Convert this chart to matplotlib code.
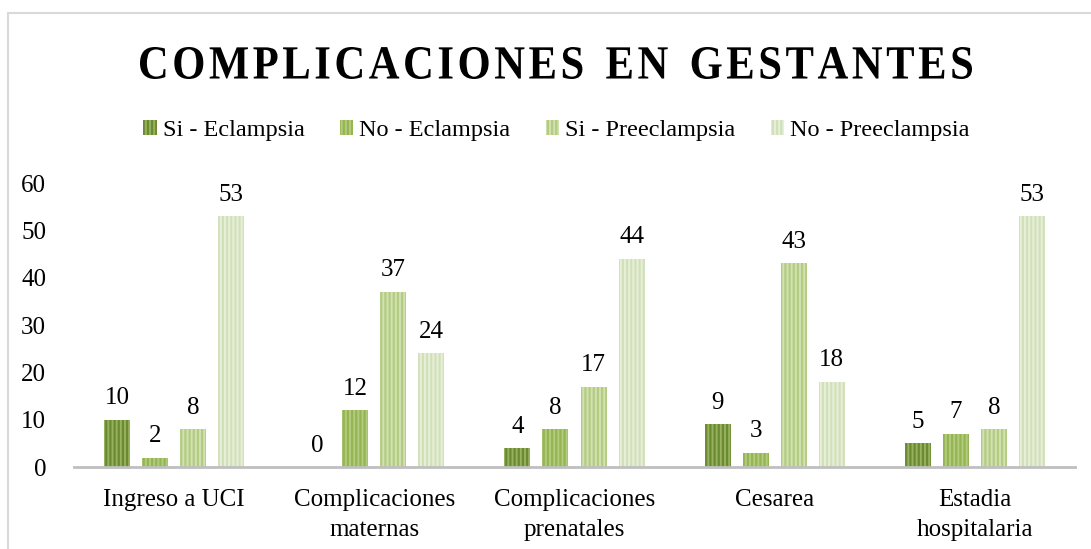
import numpy as np
import matplotlib.pyplot as plt
from matplotlib.patches import Rectangle, PathPatch
from matplotlib.textpath import TextPath
from matplotlib.font_manager import FontProperties
from matplotlib.transforms import Affine2D, IdentityTransform

categories = ["Ingreso a UCI", "Complicaciones\nmaternas", "Complicaciones\nprenatales",
              "Cesarea", "Estadia\nhospitalaria"]
series_names = ["Si - Eclampsia", "No - Eclampsia", "Si - Preeclampsia", "No - Preeclampsia"]
si_eclampsia = [10, 0, 4, 9, 5]
no_eclampsia = [2, 12, 8, 3, 7]
si_preeclampsia = [8, 37, 17, 43, 8]
no_preeclampsia = [53, 24, 44, 18, 53]
yticks = [0, 10, 20, 30, 40, 50, 60]
title = "COMPLICACIONES EN GESTANTES"

# face colour (light stripes) and hatch colour (dark stripes)
faces = ["#97B25E", "#B3CB7E", "#D2E1B2", "#E7EFD9"]
stripes = ["#6B8A32", "#94B552", "#B3CC82", "#D2E0B9"]

plt.rcParams['font.family'] = ['Liberation Serif', 'DejaVu Serif']
plt.rcParams['hatch.linewidth'] = 1.6

W, H = 1091, 549
fig = plt.figure(figsize=(W / 100, H / 100), dpi=100)
ax = fig.add_axes([74 / W, 82 / H, 1001 / W, 284 / H])

# chart border
fig.patches.append(Rectangle((8 / W, -0.1), 1.2, (H - 13) / H + 0.1,
                             transform=fig.transFigure, fill=False,
                             edgecolor="#D9D9D9", linewidth=1.5))

x = np.arange(len(categories))
width = 0.13
pitch = 0.19
data = [si_eclampsia, no_eclampsia, si_preeclampsia, no_preeclampsia]
for i, vals in enumerate(data):
    pos = x + (i - 1.5) * pitch
    ax.bar(pos, vals, width, color=faces[i], edgecolor=stripes[i],
           hatch="||||", linewidth=0, label=series_names[i])
    for xp, v in zip(pos, vals):
        ax.text(xp, v + 2.2, str(v), ha="center", va="bottom", fontsize=18)

ax.set_xlim(-0.5, len(categories) - 0.5)
ax.set_ylim(0, 60)
ax.set_yticks(yticks)
ax.set_xticks(x)
ax.set_xticklabels(categories, fontsize=18, linespacing=1.45)
ax.tick_params(axis="y", length=0, pad=20, labelsize=18)
ax.tick_params(axis="x", length=0, pad=16)
for s in ["top", "right", "left"]:
    ax.spines[s].set_visible(False)
ax.spines["bottom"].set_color("#BFBFBF")
ax.spines["bottom"].set_linewidth(2)

# title: tracked bold serif drawn as a path fitted to the box
spaced = "\u200a".join(title).replace("\u200a \u200a", "  ")
tp = TextPath((0, 0), spaced, size=50,
              prop=FontProperties(family="Liberation Serif", weight="bold"))
bb = tp.get_extents()
x0, x1 = 140, 972
ytop, ybot = 47, 79
sx = (x1 - x0) / bb.width
sy = (ybot - ytop) / bb.height
tr = Affine2D().translate(-bb.x0, -bb.y0).scale(sx, sy).translate(x0, H - ybot)
fig.patches.append(PathPatch(tr.transform_path(tp), transform=IdentityTransform(),
                             facecolor="black", edgecolor="none"))

fig.legend(loc="center", bbox_to_anchor=(0.51, 0.762), ncol=4, frameon=False,
           fontsize=17.5, handlelength=0.55, handleheight=0.55, handletextpad=0.25,
           columnspacing=1.45)

fig.savefig("out.png", dpi=100)
